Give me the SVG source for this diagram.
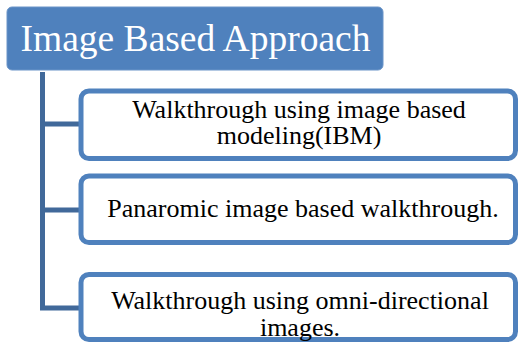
<svg xmlns="http://www.w3.org/2000/svg" width="519" height="342" viewBox="0 0 519 342">
<style>
.child{fill:#ffffff;stroke:#4F81BD;stroke-width:5}
.conn{stroke:#41699A;stroke-width:5;fill:none}
.t{font-family:"Liberation Serif","Times New Roman",serif;font-size:26px;fill:#000;text-anchor:middle}
.title{font-family:"Liberation Serif","Times New Roman",serif;font-size:37.5px;fill:#fff;text-anchor:middle}
</style>
<rect width="519" height="342" fill="#fff"/>
<g id="connectors">
<path class="conn" d="M42.5 72 V308.5 M40 124 H80 M40 210 H80 M40 308 H80"/>
</g>
<g id="root">
<rect x="7" y="7" width="376" height="63" rx="5" fill="#4F81BD" stroke="#6A94C8" stroke-width="1"/>
<text class="title" x="195.5" y="51">Image Based Approach</text>
</g>
<g id="node1">
<rect class="child" x="81" y="91" width="434.5" height="67.5" rx="8"/>
<text class="t" x="299" y="117.5">Walkthrough using image based</text>
<text class="t" x="299" y="144">modeling(IBM)</text>
</g>
<g id="node2">
<rect class="child" x="81" y="176" width="434.5" height="66.5" rx="8"/>
<text class="t" x="303" y="217">Panaromic image based walkthrough.</text>
</g>
<g id="node3">
<rect class="child" x="81" y="274.5" width="434.5" height="65" rx="8"/>
<text class="t" x="300" y="309">Walkthrough using omni-directional</text>
<text class="t" x="300" y="335.5">images.</text>
</g>
</svg>
